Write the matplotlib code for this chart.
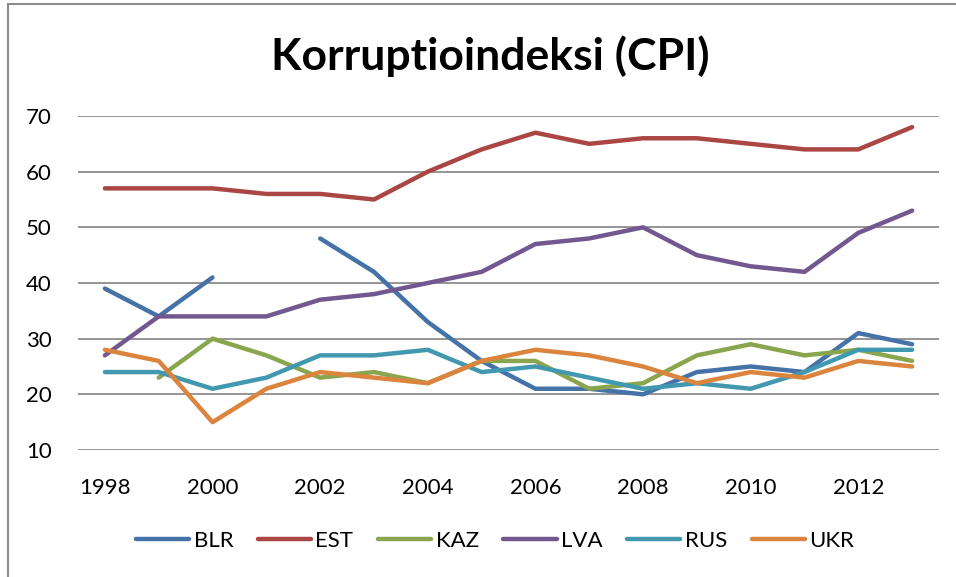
import numpy as np
import matplotlib.pyplot as plt
from matplotlib.patches import Rectangle

years = list(range(1998, 2014))
nan = np.nan

# CPI scores per country (gaps where no value was published)
blr = [39, 34, 41, nan, 48, 42, 33, 26, 21, 21, 20, 24, 25, 24, 31, 29]
est = [57, 57, 57, 56, 56, 55, 60, 64, 67, 65, 66, 66, 65, 64, 64, 68]
kaz = [nan, 23, 30, 27, 23, 24, 22, 26, 26, 21, 22, 27, 29, 27, 28, 26]
lva = [27, 34, 34, 34, 37, 38, 40, 42, 47, 48, 50, 45, 43, 42, 49, 53]
rus = [24, 24, 21, 23, 27, 27, 28, 24, 25, 23, 21, 22, 21, 24, 28, 28]
ukr = [28, 26, 15, 21, 24, 23, 22, 26, 28, 27, 25, 22, 24, 23, 26, 25]

series = [
    ("BLR", blr, "#4572A7"),
    ("EST", est, "#AA4643"),
    ("KAZ", kaz, "#89A54E"),
    ("LVA", lva, "#71588F"),
    ("RUS", rus, "#4198AF"),
    ("UKR", ukr, "#DB843D"),
]

plt.rcParams["font.family"] = ["Lato", "DejaVu Sans"]

fig = plt.figure(figsize=(9.56, 5.77), dpi=100)
W, H = 956, 577

# outer chart frame (right/bottom edges fall outside the picture)
fig.patches.append(Rectangle((8 / W, -0.1), 1.2, 1 - 4 / H + 0.1,
                             transform=fig.transFigure, fill=False,
                             edgecolor="#8c8c8c", linewidth=1.5))

ax = fig.add_axes([78 / W, 1 - 450 / H, (939 - 78) / W, (450 - 116) / H])

x = np.arange(len(years))
for name, vals, color in series:
    ax.plot(x, vals, color=color, linewidth=3.2, label=name,
            solid_capstyle="round", solid_joinstyle="round")

ax.set_xlim(-0.5, len(years) - 0.5)
ax.set_ylim(10, 70)
ax.set_yticks(range(10, 71, 10))
ax.set_xticks(x[::2])
ax.set_xticklabels([str(y) for y in years[::2]])
ax.yaxis.grid(True, color="#8c8c8c", linewidth=1.3)
ax.set_axisbelow(True)
for s in ax.spines.values():
    s.set_visible(False)
ax.tick_params(length=0, labelsize=16)
ax.tick_params(axis="y", pad=19)
ax.tick_params(axis="x", pad=20)

fig.text(490 / W, 1 - 56 / H, "Korruptioindeksi (CPI)", ha="center",
         va="center", fontsize=32, fontweight="bold")

ax.legend(loc="center", bbox_to_anchor=(495 / W, 1 - 541 / H),
          bbox_transform=fig.transFigure, ncol=6, frameon=False,
          fontsize=16, handlelength=2.4, handletextpad=0.2,
          columnspacing=1.1)

fig.savefig("out.png", dpi=100)
